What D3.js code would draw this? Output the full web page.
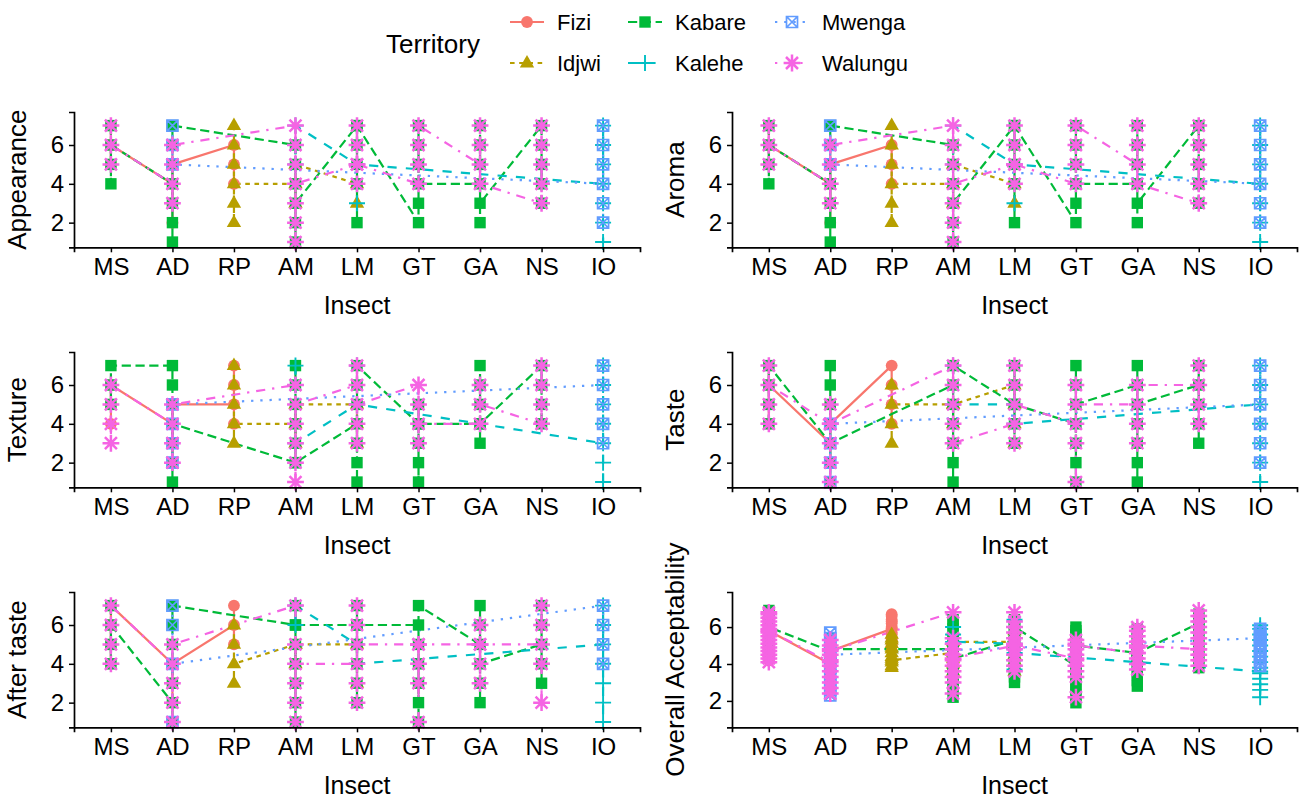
<!DOCTYPE html>
<html>
<head>
<meta charset="utf-8">
<script src="https://cdn.jsdelivr.net/npm/d3@7"></script>
<style>
  body { margin: 0; background: #fff; }
  text { font-family: "Liberation Sans", Arial, sans-serif; fill: #000; }
</style>
</head>
<body>
<svg id="chart" width="1304" height="800"></svg>
<script>
// categories
const insects = ["MS", "AD", "RP", "AM", "LM", "GT", "GA", "NS", "IO"];
const territories = ["Fizi", "Idjwi", "Kabare", "Kalehe", "Mwenga", "Walungu"];
const yTicks = [2, 4, 6];

// scores per territory, per insect, in data order (geom_line joins them in this order)
const appearance = {
  Fizi:    [["MS", [7, 5, 6]], ["AD", [4, 2, 3, 6, 5]], ["RP", [6, 5, 4]]],
  Idjwi:   [["RP", [7, 6, 5, 3, 2, 4]], ["AM", [4, 3, 5]], ["LM", [4, 3]]],
  Kabare:  [["MS", [7, 5, 4, 6]], ["AD", [4, 3, 2, 1, 5, 6, 7]], ["AM", [6, 5, 4, 1, 2, 3]], ["LM", [7, 6, 5, 4, 2, 7]],
            ["GT", [2, 3, 7, 6, 5, 4]], ["GA", [4, 5, 6, 7, 2, 3]], ["NS", [7, 6, 5, 4, 3]]],
  Kalehe:  [["AM", [6, 5, 7]], ["LM", [5, 3, 5]], ["IO", [4, 7, 6, 5, 3, 2, 1]]],
  Mwenga:  [["AD", [7, 6, 5]], ["IO", [4, 5, 6, 7, 3, 2]]],
  Walungu: [["MS", [7, 5, 6]], ["AD", [4, 3, 5, 6]], ["AM", [7, 1, 2, 3, 5, 6, 4]], ["LM", [5, 7, 6, 4, 5]],
            ["GT", [4, 5, 6, 7]], ["GA", [5, 7, 6, 4]], ["NS", [3, 4, 5, 6, 7]]]
};

// aroma scores read the same as appearance in the figure
const aroma = {
  Fizi:    [["MS", [7, 5, 6]], ["AD", [4, 2, 3, 6, 5]], ["RP", [6, 5, 4]]],
  Idjwi:   [["RP", [7, 6, 5, 3, 2, 4]], ["AM", [4, 3, 5]], ["LM", [4, 3]]],
  Kabare:  [["MS", [7, 5, 4, 6]], ["AD", [4, 3, 2, 1, 5, 6, 7]], ["AM", [6, 5, 4, 1, 2, 3]], ["LM", [7, 6, 5, 4, 2, 7]],
            ["GT", [2, 3, 7, 6, 5, 4]], ["GA", [4, 5, 6, 7, 2, 3]], ["NS", [7, 6, 5, 4, 3]]],
  Kalehe:  [["AM", [6, 5, 7]], ["LM", [5, 3, 5]], ["IO", [4, 7, 6, 5, 3, 2, 1]]],
  Mwenga:  [["AD", [7, 6, 5]], ["IO", [4, 5, 6, 7, 3, 2]]],
  Walungu: [["MS", [7, 5, 6]], ["AD", [4, 3, 5, 6]], ["AM", [7, 1, 2, 3, 5, 6, 4]], ["LM", [5, 7, 6, 4, 5]],
            ["GT", [4, 5, 6, 7]], ["GA", [5, 7, 6, 4]], ["NS", [3, 4, 5, 6, 7]]]
};

const texture = {
  Fizi:    [["MS", [4, 5, 6]], ["AD", [4, 3, 2, 5]], ["RP", [5, 4, 6, 7]]],
  Idjwi:   [["RP", [7, 6, 5, 3, 4]], ["AM", [4, 3, 5]], ["LM", [5, 4, 3]]],
  Kabare:  [["MS", [6, 5, 7]], ["AD", [7, 6, 5, 3, 2, 1, 4]], ["AM", [2, 7, 6, 5, 4, 3, 2]], ["LM", [4, 5, 6, 3, 2, 1, 7]],
            ["GT", [4, 5, 3, 2, 1, 4]], ["GA", [4, 7, 6, 5, 3, 4]], ["NS", [7, 6, 5, 4]]],
  Kalehe:  [["AM", [7, 6, 3]], ["LM", [5, 7, 6, 5]], ["IO", [3, 7, 6, 5, 4, 2, 1]]],
  Mwenga:  [["AD", [3, 2, 4, 5]], ["IO", [6, 7, 5, 4, 3]]],
  Walungu: [["MS", [3, 4, 5, 6]], ["AD", [4, 2, 3, 5]], ["AM", [6, 1, 2, 3, 4, 5]], ["LM", [6, 7, 4, 3, 5]],
            ["GT", [6, 5, 3, 4]], ["GA", [4, 6, 5]], ["NS", [4, 5, 6, 7]]]
};

const taste = {
  Fizi:    [["MS", [4, 5, 7, 6]], ["AD", [3, 2, 5, 4]], ["RP", [7, 6, 5, 4]]],
  Idjwi:   [["RP", [6, 4, 3, 5]], ["AM", [5, 4, 5]], ["LM", [6, 5, 4, 3]]],
  Kabare:  [["MS", [4, 5, 6, 7]], ["AD", [3, 7, 6, 5, 4, 2, 1, 3]], ["AM", [6, 5, 4, 3, 2, 1, 7]], ["LM", [5, 7, 6, 4, 3, 5]],
            ["GT", [4, 7, 6, 3, 2, 1, 5]], ["GA", [6, 7, 4, 3, 2, 1, 5]], ["NS", [6, 7, 5, 4, 3]]],
  Kalehe:  [["AM", [7, 5]], ["LM", [5, 4]], ["IO", [5, 7, 6, 4, 3, 2, 1]]],
  Mwenga:  [["AD", [1, 2, 3, 4]], ["IO", [5, 7, 6, 4, 3, 2]]],
  Walungu: [["MS", [7, 5, 4, 6]], ["AD", [4, 1, 2, 3, 5, 4]], ["AM", [7, 6, 5, 4, 3]], ["LM", [4, 3, 6, 7, 5]],
            ["GT", [4, 1, 3, 6, 5]], ["GA", [5, 3, 4, 6]], ["NS", [6, 4, 5, 7]]]
};

const afterTaste = {
  Fizi:    [["MS", [4, 5, 6, 7]], ["AD", [4, 3, 2, 4]], ["RP", [6, 5, 7]]],
  Idjwi:   [["RP", [6, 5, 3, 4]], ["AM", [5, 4, 5]], ["LM", [5, 3]]],
  Kabare:  [["MS", [7, 5, 4, 6]], ["AD", [2, 1, 3, 4, 5, 6, 7]], ["AM", [6, 1, 2, 3, 4, 5, 7, 6]], ["LM", [6, 2, 3, 4, 5, 7, 6]],
            ["GT", [6, 2, 1, 3, 4, 5, 7]], ["GA", [5, 2, 3, 6, 7, 4]], ["NS", [5, 3, 4, 6, 7]]],
  Kalehe:  [["AM", [6, 7]], ["LM", [5, 4]], ["IO", [5, 7, 6, 4, 3, 2, 1]]],
  Mwenga:  [["AD", [7, 6, 1, 4]], ["IO", [7, 6, 5, 4]]],
  Walungu: [["MS", [4, 5, 6, 7]], ["AD", [4, 1, 2, 3, 5]], ["AM", [7, 1, 2, 3, 5, 4]], ["LM", [4, 2, 3, 6, 7, 5]],
            ["GT", [5, 1, 3, 4, 5]], ["GA", [5, 3, 4, 6, 5]], ["NS", [5, 2, 4, 6, 7]]]
};

const overall = {
  Fizi:    [["MS", [4.2, 4.4, 4.5, 4.7, 4.9, 5.0, 5.2, 5.3, 5.5, 5.7, 5.9, 6.0, 6.2, 6.3, 6.5, 6.6, 5.8]],
            ["AD", [4.0, 3.0, 3.2, 3.5, 3.7, 3.9, 4.1, 4.3, 4.5, 4.8, 5.0, 4.7]],
            ["RP", [5.9, 5.0, 5.1, 5.3, 5.4, 5.6, 5.7, 5.9, 6.0, 6.2, 6.3, 6.4, 6.6, 6.7]]],
  Idjwi:   [["RP", [3.8, 3.9, 4.1, 4.3, 4.4, 4.6, 4.8, 4.9, 5.1, 5.3, 5.4, 5.6, 4.2]],
            ["AM", [4.6, 3.6, 3.8, 4.0, 4.3, 4.5, 4.7, 5.0, 5.3, 5.6, 5.8, 5.2]],
            ["LM", [5.2, 3.6, 3.9, 4.2, 4.5, 4.8, 5.0, 5.3, 5.6, 5.8]]],
  Kabare:  [["MS", [5.0, 5.2, 5.4, 5.6, 5.8, 6.0, 6.2, 6.4, 6.6, 6.8, 6.9, 6.0]],
            ["AD", [4.7, 2.9, 3.2, 3.5, 3.8, 4.1, 4.4, 4.7, 5.0, 5.2, 5.4, 4.8]],
            ["AM", [4.8, 2.2, 2.6, 2.9, 3.2, 3.5, 3.8, 4.1, 4.4, 4.7, 5.0, 5.3, 5.6, 5.9, 6.2, 6.4, 4.3]],
            ["LM", [5.3, 3.0, 3.3, 3.6, 3.9, 4.2, 4.5, 4.8, 5.1, 5.4, 5.7, 6.0, 6.2, 6.4, 6.0]],
            ["GT", [3.9, 1.9, 2.3, 2.6, 2.9, 3.2, 3.5, 3.8, 4.1, 4.4, 4.7, 5.0, 5.3, 5.6, 5.8, 6.0, 5.0]],
            ["GA", [4.6, 2.8, 3.1, 3.4, 3.7, 4.0, 4.3, 4.6, 4.9, 5.2, 5.5, 5.7, 5.9, 4.6]],
            ["NS", [6.2, 3.8, 4.1, 4.4, 4.7, 5.0, 5.3, 5.6, 5.9, 6.2, 6.5, 6.7]]],
  Kalehe:  [["AM", [5.6, 4.8, 5.4, 6.0, 5.2]],
            ["LM", [5.1, 3.7, 4.2, 4.8, 5.4, 6.0, 6.4, 4.6]],
            ["IO", [3.6, 2.2, 2.6, 2.9, 3.2, 3.5, 3.8, 4.1, 4.4, 4.7, 5.0, 5.3, 5.6, 5.9, 6.1]]],
  Mwenga:  [["AD", [5.7, 2.3, 2.6, 3.0, 3.4, 3.8, 4.2, 4.6, 5.0, 5.4, 4.5]],
            ["IO", [5.4, 3.9, 4.1, 4.3, 4.5, 4.7, 4.9, 5.1, 5.3, 5.5, 5.7, 5.9]]],
  Walungu: [["MS", [4.1, 4.3, 4.5, 4.7, 4.9, 5.1, 5.3, 5.5, 5.7, 5.9, 6.1, 6.3, 6.5, 6.7, 6.8, 5.8]],
            ["AD", [4.1, 2.4, 2.7, 3.0, 3.3, 3.6, 3.9, 4.2, 4.5, 4.8, 5.0, 5.3, 4.7]],
            ["AM", [6.8, 2.4, 3.0, 3.3, 3.6, 3.9, 4.2, 4.5, 4.8, 5.1, 5.4, 4.3]],
            ["LM", [5.0, 3.6, 3.9, 4.2, 4.5, 4.8, 5.1, 5.4, 5.7, 6.0, 6.3, 6.8, 5.0]],
            ["GT", [4.3, 2.2, 3.3, 3.6, 3.9, 4.2, 4.5, 4.8, 5.1, 5.3, 5.0]],
            ["GA", [4.6, 3.7, 4.0, 4.3, 4.6, 4.9, 5.2, 5.5, 5.8, 6.0, 5.0]],
            ["NS", [4.8, 3.9, 4.2, 4.5, 4.8, 5.1, 5.4, 5.7, 6.0, 6.3, 6.6, 6.9]]]
};

const panels = [
  { title: "Appearance", data: appearance, col: 0, row: 0, yDomain: [0.73, 7.7] },
  { title: "Aroma", data: aroma, col: 1, row: 0, yDomain: [0.73, 7.7] },
  { title: "Texture", data: texture, col: 0, row: 1, yDomain: [0.73, 7.7] },
  { title: "Taste", data: taste, col: 1, row: 1, yDomain: [0.73, 7.7] },
  { title: "After taste", data: afterTaste, col: 0, row: 2, yDomain: [0.73, 7.7] },
  { title: "Overall Acceptability", data: overall, col: 1, row: 2, yDomain: [0.57, 7.9] }
];

// styling
const colour = d3.scaleOrdinal(territories, ["#F8766D", "#B79F00", "#00BA38", "#00BFC4", "#619CFF", "#F564E3"]);
const dash = d3.scaleOrdinal(territories, ["none", "4.6,4.6", "9.2,4.6", "9.2,9.2", "2.3,6.9", "2.3,6.9,9.2,6.9"]);
const filled = { Fizi: true, Idjwi: true, Kabare: true };
const strokeW = { Kalehe: 1.9, Mwenga: 1.7, Walungu: 2.5 };
const shapes = {
  Fizi:    d3.symbol(d3.symbolCircle, 110)(),
  Idjwi:   "M0,-8L7.2,4.4L-7.2,4.4Z",
  Kabare:  "M-5.7,-5.7H5.7V5.7H-5.7Z",
  Kalehe:  "M-8,0H8M0,-8V8",
  Mwenga:  "M-5.5,-5.5H5.5V5.5H-5.5ZM-5.5,-5.5L5.5,5.5M5.5,-5.5L-5.5,5.5",
  Walungu: "M-8.4,0H8.4M0,-8.4V8.4M-6,-6L6,6M6,-6L-6,6"
};

const colX = [[74, 640], [732, 1297]];
const rowY = [112, 352, 592];
const panelH = 135.3;

const svg = d3.select("#chart");

function marker(sel, t) {
  sel.attr("d", shapes[t])
    .attr("fill", filled[t] ? colour(t) : "none")
    .attr("stroke", filled[t] ? "none" : colour(t))
    .attr("stroke-width", strokeW[t] || 0);
}

panels.forEach(p => {
  const [x0, x1] = colX[p.col];
  const top = rowY[p.row], bottom = top + panelH;
  const x = d3.scalePoint().domain(insects).range([x0, x1]).padding(0.6);
  const y = d3.scaleLinear().domain(p.yDomain).range([bottom, top]);
  const g = svg.append("g");

  // flatten to rows: territory, insect, score (sorted by insect like geom_line)
  const series = territories.map(t => {
    const pts = [];
    const byInsect = new Map(p.data[t] || []);
    insects.forEach(ins => (byInsect.get(ins) || []).forEach(v => pts.push({ t, ins, v })));
    return { t, pts };
  });

  const line = d3.line().x(d => x(d.ins)).y(d => y(d.v));
  g.selectAll(".trace").data(series).join("path")
    .attr("class", "trace")
    .attr("d", d => line(d.pts))
    .attr("fill", "none")
    .attr("stroke", d => colour(d.t))
    .attr("stroke-width", 2.2)
    .attr("stroke-dasharray", d => dash(d.t));

  series.forEach(s => {
    g.selectAll(null).data(s.pts).join("path")
      .attr("transform", d => `translate(${x(d.ins)},${y(d.v)})`)
      .call(marker, s.t);
  });

  // axes
  const ax = g.append("g").attr("transform", `translate(0,${bottom})`)
    .call(d3.axisBottom(x).tickSizeOuter(0).tickSize(5).tickPadding(6));
  const ay = g.append("g").attr("transform", `translate(${x0},0)`)
    .call(d3.axisLeft(y).tickValues(yTicks).tickFormat(d3.format("d")).tickSizeOuter(0).tickSize(5).tickPadding(5));
  [ax, ay].forEach(a => {
    a.select(".domain").attr("stroke", "#000").attr("stroke-width", 1.7);
    a.selectAll(".tick line").attr("stroke", "#000").attr("stroke-width", 1.5);
    a.selectAll(".tick text").attr("font-size", 24).attr("fill", "#000")
      .attr("font-family", "Liberation Sans, Arial, sans-serif");
  });

  g.append("text")
    .attr("x", (x0 + x1) / 2).attr("y", bottom + 58).attr("dy", "0.35em")
    .attr("text-anchor", "middle").attr("font-size", 25).text("Insect");

  g.append("text")
    .attr("transform", `translate(${x0 - 48},${(top + bottom) / 2}) rotate(-90)`)
    .attr("text-anchor", "middle").attr("font-size", 26).text(p.title);
});

// legend
const legend = svg.append("g");
legend.append("text").attr("x", 386).attr("y", 44).attr("dy", "0.35em")
  .attr("font-size", 26).text("Territory");
const keyX = [527, 645, 792], keyY = [22, 63];
territories.forEach((t, i) => {
  const cx = keyX[Math.floor(i / 2)], cy = keyY[i % 2];
  legend.append("line").attr("x1", cx - 17).attr("x2", cx + 17).attr("y1", cy).attr("y2", cy)
    .attr("stroke", colour(t)).attr("stroke-width", 2.2).attr("stroke-dasharray", dash(t));
  legend.append("path").attr("transform", `translate(${cx},${cy})`).call(marker, t);
  legend.append("text").attr("x", cx + 30).attr("y", cy).attr("dy", "0.35em")
    .attr("font-size", 22).text(t);
});
</script>
</body>
</html>
